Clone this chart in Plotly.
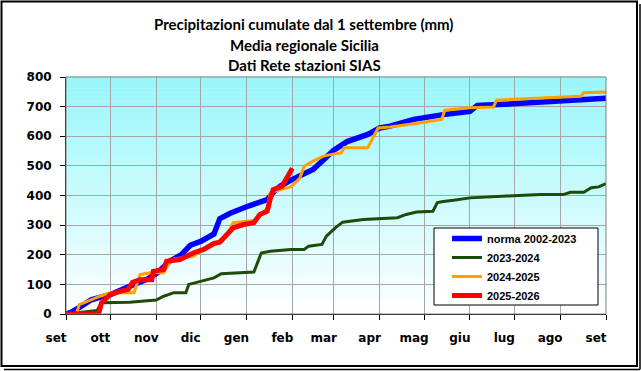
import plotly.graph_objects as go

# ---- data (day of season since 1 Sep, cumulative mm) ----
month_days = [0, 30, 61, 91, 122, 153, 181, 212, 242, 273, 303, 334, 365]
month_labels = ["set", "ott", "nov", "dic", "gen", "feb", "mar", "apr", "mag", "giu", "lug", "ago", "set"]

norma_days = [0, 3, 10, 17, 24, 30, 39, 48, 55, 62, 70, 78, 84, 91, 96, 100, 104, 111, 122, 130, 136, 140,
              145, 152, 160, 167, 174, 181, 190, 204, 212, 219, 235, 246, 255, 273, 278, 289, 307, 334, 343, 365]
norma_vals = [0, 5, 25, 48, 58, 65, 85, 105, 118, 140, 178, 200, 232, 245, 258, 270, 322, 340, 362, 375, 386, 410,
              432, 452, 472, 488, 520, 553, 582, 606, 628, 634, 657, 668, 673, 684, 704, 706, 711, 716, 722, 728]

y2324_days = [0, 21, 24, 43, 61, 66, 73, 81, 83, 91, 100, 105, 120, 127, 132, 138, 152, 161, 164, 173, 176, 182,
              187, 201, 224, 230, 237, 248, 251, 255, 262, 273, 298, 321, 336, 341, 350, 355, 360, 365]
y2324_vals = [0, 12, 38, 40, 47, 60, 72, 72, 100, 111, 122, 136, 139, 142, 206, 212, 218, 218, 229, 235, 263, 291,
              310, 319, 325, 336, 344, 347, 376, 380, 384, 392, 398, 403, 403, 411, 411, 426, 429, 440]

y2425_days = [0, 7, 9, 18, 23, 30, 46, 50, 57, 66, 69, 73, 86, 91, 100, 109, 113, 127, 131, 136, 138, 145, 152,
              158, 161, 167, 174, 179, 186, 188, 204, 211, 219, 239, 246, 254, 256, 273, 289, 291, 307, 348, 350, 365]
y2425_vals = [0, 0, 32, 51, 60, 72, 72, 133, 139, 139, 167, 186, 195, 212, 235, 268, 308, 316, 330, 358, 409, 420, 429,
              458, 499, 516, 533, 538, 544, 561, 561, 628, 631, 645, 651, 657, 688, 696, 699, 722, 726, 735, 747, 749]

y2526_days = [0, 22, 24, 30, 37, 42, 45, 50, 58, 59, 66, 68, 77, 86, 93, 100, 104, 109, 113, 120, 127, 131,
              136, 138, 140, 146, 149, 152, 153]
y2526_vals = [0, 0, 38, 66, 77, 83, 107, 116, 116, 144, 150, 178, 184, 206, 218, 238, 242, 268, 291, 302, 308, 336,
              347, 387, 420, 431, 454, 482, 492]

series_names = ["norma 2002-2023", "2023-2024", "2024-2025", "2025-2026"]
series_colors = ["#0000FF", "#1E4A0A", "#FFA000", "#FF0000"]
series_widths = [5.5, 3, 3, 5]

W, H = 641, 371
ML, MR, MT, MB = 66, 35, 77, 57
PW, PH = W - ML - MR, H - MT - MB


def px2paper(x, y):
    return (x - ML) / PW, (H - MB - y) / PH


fig = go.Figure()
for name, xs, ys, col, lw in zip(
        series_names,
        [norma_days, y2324_days, y2425_days, y2526_days],
        [norma_vals, y2324_vals, y2425_vals, y2526_vals],
        series_colors, series_widths):
    fig.add_trace(go.Scatter(x=xs, y=ys, mode="lines", name=name,
                             line=dict(color=col, width=lw)))

shapes = []
# gradient background (cyan at top -> white at bottom)
nb = 60
top = (150, 246, 250)
bot = (255, 255, 255)
for i in range(nb):
    t = (i + 0.5) / nb
    c = tuple(int(round(bot[k] + (top[k] - bot[k]) * t)) for k in range(3))
    shapes.append(dict(type="rect", xref="x domain", yref="y domain",
                       x0=0, x1=1, y0=i / nb, y1=(i + 1) / nb + 0.002,
                       fillcolor="rgb(%d,%d,%d)" % c, line=dict(width=0), layer="below"))
# plot area border
shapes.append(dict(type="rect", xref="x domain", yref="y domain", x0=0, x1=1, y0=0, y1=1,
                   line=dict(color="#808080", width=1), fillcolor="rgba(0,0,0,0)", layer="above"))
# legend box
lx0, ly0 = px2paper(434, 305)
lx1, ly1 = px2paper(598, 228)
shapes.append(dict(type="rect", xref="paper", yref="paper", x0=lx0, x1=lx1, y0=ly0, y1=ly1,
                   line=dict(color="black", width=1), fillcolor="white", layer="above"))
# outer frame
fx0, fy0 = px2paper(1.5, 366)
fx1, fy1 = px2paper(637, 1.5)
shapes.append(dict(type="rect", xref="paper", yref="paper", x0=fx0, x1=fx1, y0=fy0, y1=fy1,
                   line=dict(color="black", width=2), fillcolor="rgba(0,0,0,0)", layer="above"))
sx0, sy0 = px2paper(4, 369.5)
sx1, sy1 = px2paper(640, 4)
shapes.append(dict(type="line", xref="paper", yref="paper", x0=sx0, x1=sx1, y0=sy0, y1=sy0,
                   line=dict(color="black", width=1.5)))
shapes.append(dict(type="line", xref="paper", yref="paper", x0=sx1, x1=sx1, y0=sy0, y1=sy1,
                   line=dict(color="black", width=1.5)))

title_lines = ["Precipitazioni cumulate dal 1 settembre (mm)", "Media regionale Sicilia", "Dati Rete stazioni SIAS"]
title_y = [24, 45, 65]
annotations = []
for txt, yy in zip(title_lines, title_y):
    ax, ay = px2paper(304, yy)
    annotations.append(dict(text=txt, xref="paper", yref="paper", x=ax, y=ay,
                            xanchor="center", yanchor="middle", showarrow=False,
                            font=dict(family="Lato", size=15, color="black", weight="bold")))

legx, legy = px2paper(447, 224)
fig.update_layout(
    width=W, height=H,
    margin=dict(l=ML, r=MR, t=MT, b=MB, pad=0),
    paper_bgcolor="white", plot_bgcolor="white",
    shapes=shapes, annotations=annotations,
    showlegend=True,
    legend=dict(x=legx, y=legy, xanchor="left", yanchor="top",
                bgcolor="rgba(0,0,0,0)", borderwidth=0,
                font=dict(family="Liberation Sans", size=11, color="black", weight="bold"),
                itemwidth=30, tracegroupgap=0),
    xaxis=dict(range=[0, 365], tickmode="array", tickvals=month_days, ticktext=month_labels,
               showgrid=True, gridcolor="#A6A6A6", gridwidth=1, zeroline=False,
               showline=True, linecolor="black", linewidth=1,
               ticks="outside", ticklen=5, tickcolor="black",
               ticklabelshift=-10, ticklabelstandoff=8,
               tickfont=dict(family="DejaVu Sans", size=12, color="black", weight="bold")),
    yaxis=dict(range=[0, 800], tickmode="array", tickvals=list(range(0, 801, 100)),
               showgrid=True, gridcolor="#A6A6A6", gridwidth=1, zeroline=False,
               showline=True, linecolor="black", linewidth=1,
               ticks="outside", ticklen=5, tickcolor="black", ticklabelstandoff=6,
               tickfont=dict(family="DejaVu Sans", size=12, color="black", weight="bold")),
)

fig.write_html("out.html", config={"displayModeBar": False},
               post_script="document.body.style.margin='0px';document.body.style.overflow='hidden';")
